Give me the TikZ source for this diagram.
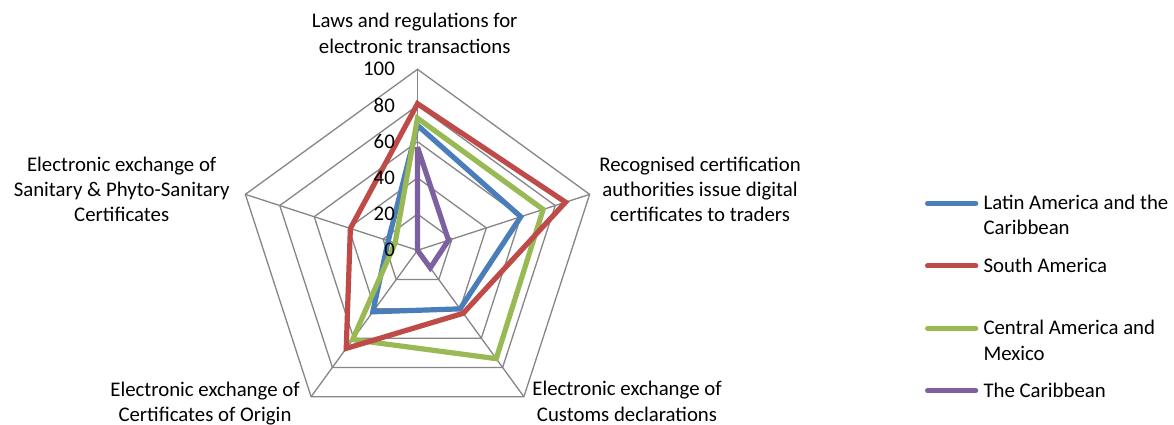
\documentclass[tikz,border=0pt]{standalone}
\usepackage{fontspec}
\setmainfont{Carlito}
\definecolor{gridgray}{RGB}{134,134,134}
\definecolor{serblue}{RGB}{74,126,187}
\definecolor{serred}{RGB}{190,75,72}
\definecolor{sergreen}{RGB}{152,185,84}
\definecolor{serpurple}{RGB}{125,96,160}
\newcommand\radarpts[5]{([shift={(C)}]90:{#1*1.81}) -- ([shift={(C)}]18:{#2*1.81}) -- ([shift={(C)}]-54:{#3*1.81}) -- ([shift={(C)}]-126:{#4*1.81}) -- ([shift={(C)}]162:{#5*1.81}) -- cycle}
\begin{document}
\begin{tikzpicture}[x=1pt,y=1pt,
  font=\fontsize{20.8}{25.3}\selectfont,
  gridline/.style={draw=gridgray,line width=1.3pt,line join=miter},
  series/.style={line width=5.2pt,line join=miter,miter limit=4},
  legline/.style={line width=5pt,line cap=round},
  axlabel/.style={align=center,inner sep=0pt,text=black},
  ticklabel/.style={anchor=east,inner sep=0pt,text=black},
  leglabel/.style={align=left,inner sep=0pt,text=black}]
\useasboundingbox (0,0) rectangle (1174,425);
\fill[white] (0,0) rectangle (1174,425);
\coordinate (C) at (417.5,174.7);
% grid rings
\foreach \v in {20,40,60,80,100}{
  \draw[gridline] \radarpts{\v}{\v}{\v}{\v}{\v};
}
% spokes
\foreach \a in {90,18,-54,-126,162}{
  \draw[gridline] (C) -- ([shift={(C)}]\a:181);
}
% series
\draw[series,serblue] \radarpts{69}{60}{40}{42}{17};
\draw[series,sergreen] \radarpts{73}{73}{74}{61}{13};
\draw[series,serred] \radarpts{81}{86}{43}{67}{39};
\draw[series,serpurple] \radarpts{57}{18}{12}{0}{0};
% tick labels
\foreach \v in {0,20,40,60,80,100}{
  \node[ticklabel] (t\v) at (395,{174.7+\v*1.81}) {\v};
}
% axis labels
\node[axlabel] (laws) at (414.7,391.7) {Laws and regulations for\\electronic transactions};
\node[axlabel] (cert) at (700,235.8) {Recognised certification\\authorities issue digital\\certificates to traders};
\node[axlabel] (cust) at (627,23.5) {Electronic exchange of\\Customs declarations};
\node[axlabel] (orig) at (205,21.5) {Electronic exchange of\\Certificates of Origin};
\node[axlabel] (sps) at (121.7,235.8) {Electronic exchange of\\Sanitary \& Phyto-Sanitary\\Certificates};
% legend
\coordinate (l1a) at (927.5,221.7); \coordinate (l1b) at (975.8,221.7);
\coordinate (l2a) at (927.5,159);   \coordinate (l2b) at (975.8,159);
\coordinate (l3a) at (927.5,96.7);  \coordinate (l3b) at (975.8,96.7);
\coordinate (l4a) at (927.5,34.3);  \coordinate (l4b) at (975.8,34.3);
\draw[legline,serblue] (l1a) -- (l1b);
\draw[legline,serred] (l2a) -- (l2b);
\draw[legline,sergreen] (l3a) -- (l3b);
\draw[legline,serpurple] (l4a) -- (l4b);
\node[leglabel,anchor=west] (g1) at (983.3,210.25) {Latin America and the\\Caribbean};
\node[leglabel,anchor=base west] (g2) at (983.3,152.3) {South America};
\node[leglabel,anchor=west] (g3) at (983.3,84.75) {Central America and\\Mexico};
\node[leglabel,anchor=base west] (g4) at (983.3,27.7) {The Caribbean};
\end{tikzpicture}
\end{document}
